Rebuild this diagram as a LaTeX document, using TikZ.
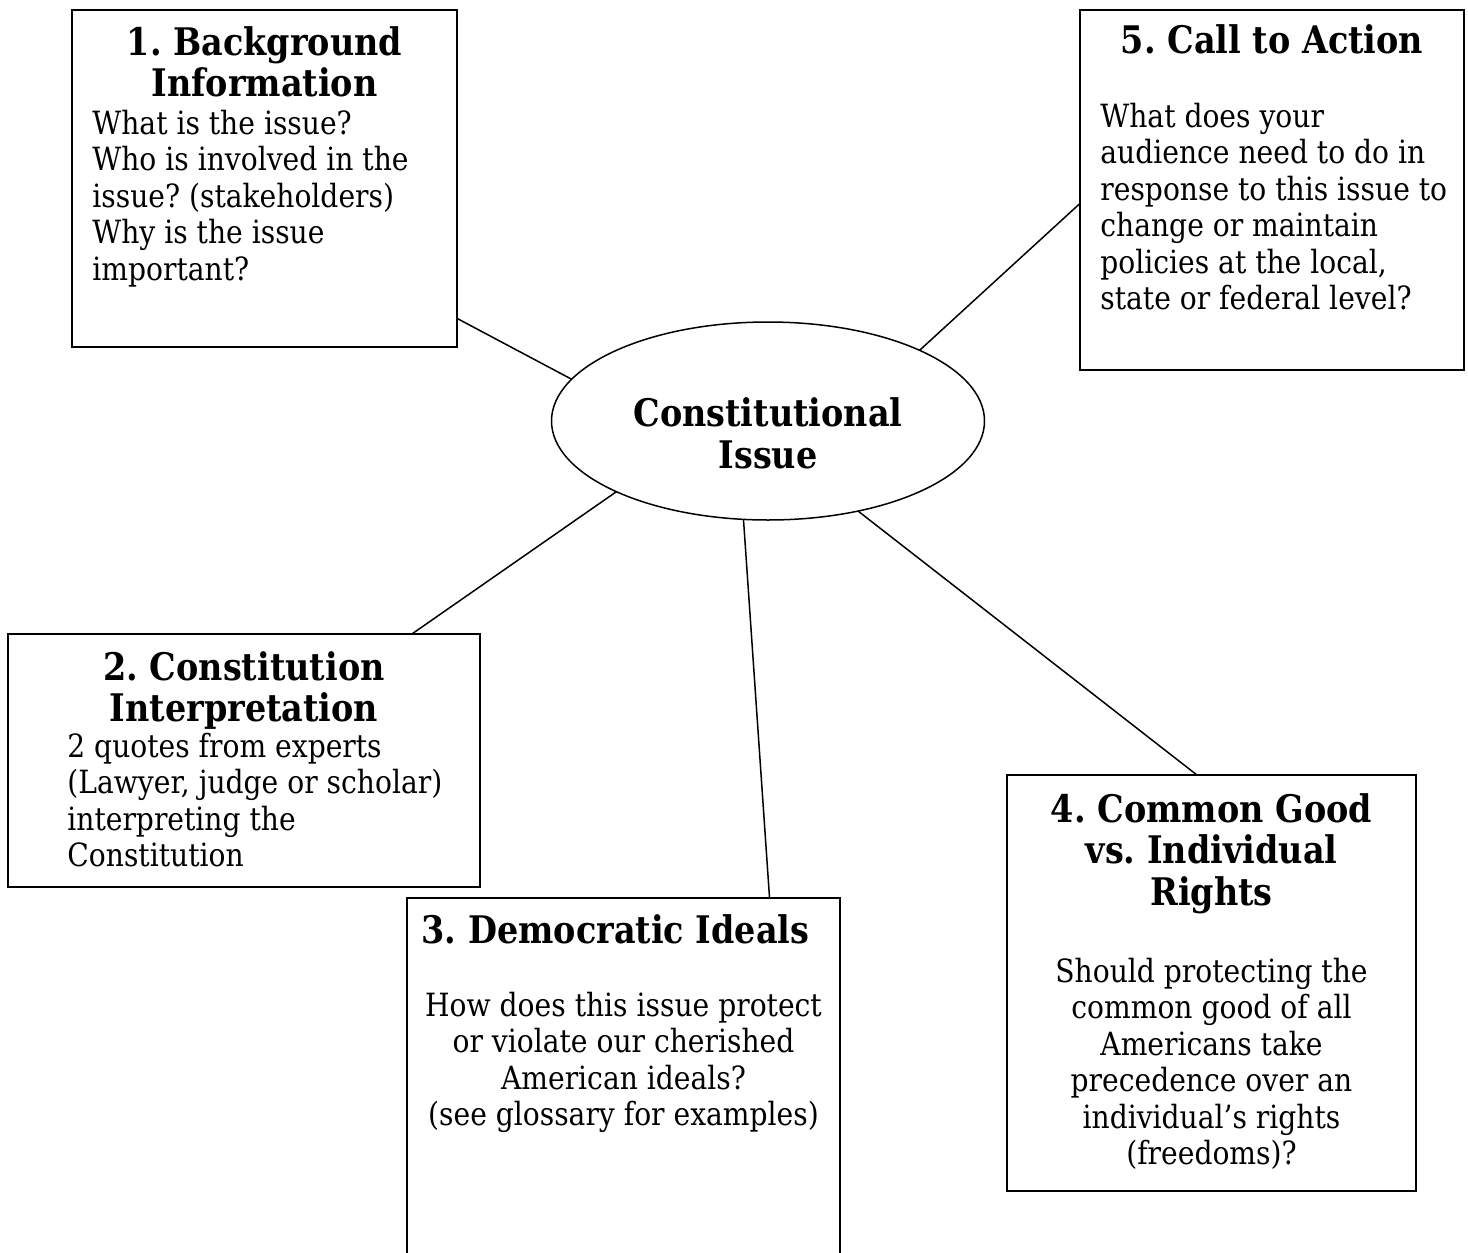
\documentclass[tikz,border=0pt]{standalone}
\usepackage{fontspec}
\setmainfont[FakeStretch=0.88]{DejaVu Serif}
\usepackage{tikz}
\usetikzlibrary{positioning, shapes.geometric}

\newcommand{\headfont}{\fontsize{19pt}{20.75pt}\selectfont\bfseries}
\newcommand{\bodyfont}{\fontsize{16pt}{18.25pt}\selectfont}
\frenchspacing

\begin{document}
\begin{tikzpicture}[x=0.5pt, y=-0.5pt,
      box/.style={draw, line width=1pt, inner sep=0pt, outer sep=0pt},
      hub/.style={draw, ellipse, line width=0.75pt, inner sep=0pt, outer sep=0pt, minimum width=216.5pt, minimum height=99pt, font=\headfont, align=center},
      head/.style={font=\headfont, align=center, inner sep=0pt, execute at begin node=\strut},
      body/.style={font=\bodyfont, inner sep=0pt, execute at begin node=\strut},
      link/.style={line width=0.75pt}
    ]
      \clip (0,0) rectangle (1468,1253);

      % boxes and the hub
      \node[hub] (issue) at (768,421) {\rule{0pt}{32.75pt}Constitutional\\Issue\strut};
      \node[box, minimum width=192.5pt, minimum height=168.5pt] (bg) at (264.5,178.5) {};
      \node[box, minimum width=192pt, minimum height=180pt] (action) at (1272,190) {};
      \node[box, minimum width=236pt, minimum height=126.5pt] (interp) at (244,760.5) {};
      \node[box, minimum width=216.5pt, minimum height=201pt] (ideals) at (623.5,1099) {};
      \node[box, minimum width=204.5pt, minimum height=208pt] (good) at (1211.5,983) {};

      % 1
      \node[head, below=8pt of bg.north] (bghead) {1. Background\\Information};
      \node[body, align=left, below right=49.7pt and 10pt of bg.north west] (bgtext)
        {What is the issue?\\Who is involved in the\\issue? (stakeholders)\\Why is the issue\\important?};
      % 2
      \node[head, below=8.5pt of interp.north] (interphead) {2. Constitution\\Interpretation};
      \node[body, align=left, below right=49.2pt and 29.5pt of interp.north west] (interptext)
        {2 quotes from experts\\(Lawyer, judge or scholar)\\interpreting the\\Constitution};
      % 3
      \node[head, below=8pt of ideals.north, xshift=-4pt] (idealshead) {3. Democratic Ideals};
      \node[body, align=center, below=46.7pt of ideals.north] (idealstext)
        {How does this issue protect\\or violate our cherished\\American ideals?\\(see glossary for examples)};
      % 4
      \node[head, below=9pt of good.north] (goodhead) {4. Common Good\\vs. Individual\\Rights};
      \node[body, align=center, below=91.2pt of good.north] (goodtext)
        {Should protecting the\\common good of all\\Americans take\\precedence over an\\individual’s rights\\(freedoms)?};
      % 5
      \node[head, below=7pt of action.north] (actionhead) {5. Call to Action};
      \node[body, align=left, below right=46.2pt and 10pt of action.north west] (actiontext)
        {What does your\\audience need to do in\\response to this issue to\\change or maintain\\policies at the local,\\state or federal level?};

      \draw[link] (issue.168.6) -- (bg.-36.3);
      \draw[link] (issue.25.2) -- (action.184.5);
      \draw[link] (issue.205.6) -- (interp.37.6);
      \draw[link] (issue.256.4) -- (ideals.54.3);
      \draw[link] (issue.315.3) -- (good.94.5);
    \end{tikzpicture}
\end{document}
